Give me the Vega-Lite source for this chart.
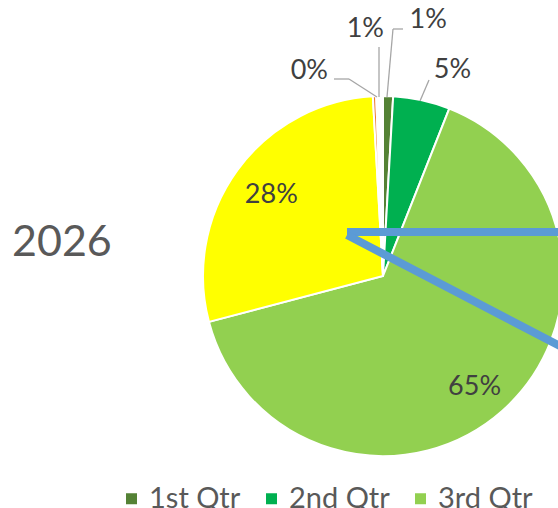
{
  "$schema": "https://vega.github.io/schema/vega-lite/v6.json",
  "width": 350,
  "height": 464,
  "autosize": {"type": "none"},
  "padding": {"left": 208, "top": 44, "right": 0, "bottom": 0},
  "background": "white",
  "config": {"view": {"stroke": null}},
  "title": {"text": "2026", "anchor": "start", "frame": "group", "orient": "top", "font": "Lato", "fontSize": 43, "fontWeight": "normal", "color": "#595959", "offset": 0, "baseline": "alphabetic", "dx": -196, "dy": 293},
  "data": {"values": [
    {"quarter": "1st Qtr", "share": 0.009},
    {"quarter": "2nd Qtr", "share": 0.051},
    {"quarter": "3rd Qtr", "share": 0.649},
    {"quarter": "4th Qtr", "share": 0.282},
    {"quarter": "5th Qtr", "share": 0.003},
    {"quarter": "6th Qtr", "share": 0.006}
  ]},
  "layer": [
    {
      "mark": {"type": "arc", "outerRadius": 180, "stroke": "white", "strokeWidth": 2},
      "encoding": {
        "theta": {"field": "share", "type": "quantitative", "stack": true},
        "order": {"field": "quarter", "type": "ordinal"},
        "color": {"field": "quarter", "type": "nominal",
          "scale": {"domain": ["1st Qtr", "2nd Qtr", "3rd Qtr", "4th Qtr", "5th Qtr", "6th Qtr"], "range": ["#548235", "#00B050", "#92D050", "#FFFF00", "#ED7D31", "#FFFFFF"]},
          "legend": {"orient": "none", "legendX": -91, "legendY": 440, "padding": 0, "direction": "horizontal", "columns": 6, "title": null, "symbolType": "square", "symbolSize": 121, "symbolStrokeWidth": 0, "labelFontSize": 29, "labelFont": "Lato", "labelColor": "#595959", "labelOffset": 3, "columnPadding": 16, "labelLimit": 0}}
      }
    },
    {
      "data": {"values": [{}]},
      "mark": {"type": "rule", "color": "#5B9BD5", "strokeWidth": 8, "strokeCap": "butt"},
      "encoding": {
        "x": {"datum": -36, "type": "quantitative", "scale": {"domain": [-175, 175], "nice": false, "zero": false}, "axis": null},
        "y": {"datum": 44, "type": "quantitative", "scale": {"domain": [-232, 232], "nice": false, "zero": false}, "axis": null},
        "x2": {"datum": 200},
        "y2": {"datum": 44}
      }
    },
    {
      "data": {"values": [{}]},
      "mark": {"type": "rule", "color": "#5B9BD5", "strokeWidth": 8, "strokeCap": "butt"},
      "encoding": {
        "x": {"datum": -36, "type": "quantitative", "scale": {"domain": [-175, 175], "nice": false, "zero": false}, "axis": null},
        "y": {"datum": 41, "type": "quantitative", "scale": {"domain": [-232, 232], "nice": false, "zero": false}, "axis": null},
        "x2": {"datum": 200},
        "y2": {"datum": -82}
      }
    },
    {
      "data": {"values": [{}]},
      "mark": {"type": "rule", "color": "#A6A6A6", "strokeWidth": 1.3},
      "encoding": {
        "x": {"datum": -49, "type": "quantitative", "scale": {"domain": [-175, 175], "nice": false, "zero": false}, "axis": null},
        "y": {"datum": 197, "type": "quantitative", "scale": {"domain": [-232, 232], "nice": false, "zero": false}, "axis": null},
        "x2": {"datum": -34},
        "y2": {"datum": 197}
      }
    },
    {
      "data": {"values": [{}]},
      "mark": {"type": "rule", "color": "#A6A6A6", "strokeWidth": 1.3},
      "encoding": {
        "x": {"datum": -34, "type": "quantitative", "scale": {"domain": [-175, 175], "nice": false, "zero": false}, "axis": null},
        "y": {"datum": 197, "type": "quantitative", "scale": {"domain": [-232, 232], "nice": false, "zero": false}, "axis": null},
        "x2": {"datum": -6},
        "y2": {"datum": 179}
      }
    },
    {
      "data": {"values": [{}]},
      "mark": {"type": "rule", "color": "#A6A6A6", "strokeWidth": 1.3},
      "encoding": {
        "x": {"datum": -4, "type": "quantitative", "scale": {"domain": [-175, 175], "nice": false, "zero": false}, "axis": null},
        "y": {"datum": 229, "type": "quantitative", "scale": {"domain": [-232, 232], "nice": false, "zero": false}, "axis": null},
        "x2": {"datum": -4},
        "y2": {"datum": 179}
      }
    },
    {
      "data": {"values": [{}]},
      "mark": {"type": "rule", "color": "#A6A6A6", "strokeWidth": 1.3},
      "encoding": {
        "x": {"datum": 20, "type": "quantitative", "scale": {"domain": [-175, 175], "nice": false, "zero": false}, "axis": null},
        "y": {"datum": 247, "type": "quantitative", "scale": {"domain": [-232, 232], "nice": false, "zero": false}, "axis": null},
        "x2": {"datum": 10},
        "y2": {"datum": 247}
      }
    },
    {
      "data": {"values": [{}]},
      "mark": {"type": "rule", "color": "#A6A6A6", "strokeWidth": 1.3},
      "encoding": {
        "x": {"datum": 10, "type": "quantitative", "scale": {"domain": [-175, 175], "nice": false, "zero": false}, "axis": null},
        "y": {"datum": 247, "type": "quantitative", "scale": {"domain": [-232, 232], "nice": false, "zero": false}, "axis": null},
        "x2": {"datum": 4},
        "y2": {"datum": 179}
      }
    },
    {
      "data": {"values": [{}]},
      "mark": {"type": "rule", "color": "#A6A6A6", "strokeWidth": 1.3},
      "encoding": {
        "x": {"datum": 46, "type": "quantitative", "scale": {"domain": [-175, 175], "nice": false, "zero": false}, "axis": null},
        "y": {"datum": 196, "type": "quantitative", "scale": {"domain": [-232, 232], "nice": false, "zero": false}, "axis": null},
        "x2": {"datum": 37},
        "y2": {"datum": 175}
      }
    },
    {
      "mark": {"type": "text", "radius": 138, "font": "Lato", "fontSize": 27, "color": "#404040", "baseline": "middle", "align": "center"},
      "encoding": {
        "theta": {"field": "share", "type": "quantitative", "stack": true},
        "order": {"field": "quarter", "type": "ordinal"},
        "text": {"condition": {"test": "datum.quarter === '4th Qtr'", "field": "share", "type": "quantitative", "format": ".0%"}, "value": ""}
      }
    },
    {
      "mark": {"type": "text", "radius": 138, "dy": 8, "font": "Lato", "fontSize": 27, "color": "#404040", "baseline": "middle", "align": "center"},
      "encoding": {
        "theta": {"field": "share", "type": "quantitative", "stack": true},
        "order": {"field": "quarter", "type": "ordinal"},
        "text": {"condition": {"test": "datum.quarter === '3rd Qtr'", "field": "share", "type": "quantitative", "format": ".0%"}, "value": ""}
      }
    },
    {
      "mark": {"type": "text", "radius": 205, "dx": -64, "font": "Lato", "fontSize": 27, "color": "#404040", "baseline": "middle", "align": "center"},
      "encoding": {
        "theta": {"field": "share", "type": "quantitative", "stack": true},
        "order": {"field": "quarter", "type": "ordinal"},
        "text": {"condition": {"test": "datum.quarter === '5th Qtr'", "field": "share", "type": "quantitative", "format": ".0%"}, "value": ""}
      }
    },
    {
      "mark": {"type": "text", "radius": 247, "dx": -13, "font": "Lato", "fontSize": 27, "color": "#404040", "baseline": "middle", "align": "center"},
      "encoding": {
        "theta": {"field": "share", "type": "quantitative", "stack": true},
        "order": {"field": "quarter", "type": "ordinal"},
        "text": {"condition": {"test": "datum.quarter === '6th Qtr'", "field": "share", "type": "quantitative", "format": ".0%"}, "value": ""}
      }
    },
    {
      "mark": {"type": "text", "radius": 256, "dx": 38, "font": "Lato", "fontSize": 27, "color": "#404040", "baseline": "middle", "align": "center"},
      "encoding": {
        "theta": {"field": "share", "type": "quantitative", "stack": true},
        "order": {"field": "quarter", "type": "ordinal"},
        "text": {"condition": {"test": "datum.quarter === '1st Qtr'", "field": "share", "type": "quantitative", "format": ".0%"}, "value": ""}
      }
    },
    {
      "mark": {"type": "text", "radius": 211, "dx": 24, "font": "Lato", "fontSize": 27, "color": "#404040", "baseline": "middle", "align": "center"},
      "encoding": {
        "theta": {"field": "share", "type": "quantitative", "stack": true},
        "order": {"field": "quarter", "type": "ordinal"},
        "text": {"condition": {"test": "datum.quarter === '2nd Qtr'", "field": "share", "type": "quantitative", "format": ".0%"}, "value": ""}
      }
    }
  ]
}
